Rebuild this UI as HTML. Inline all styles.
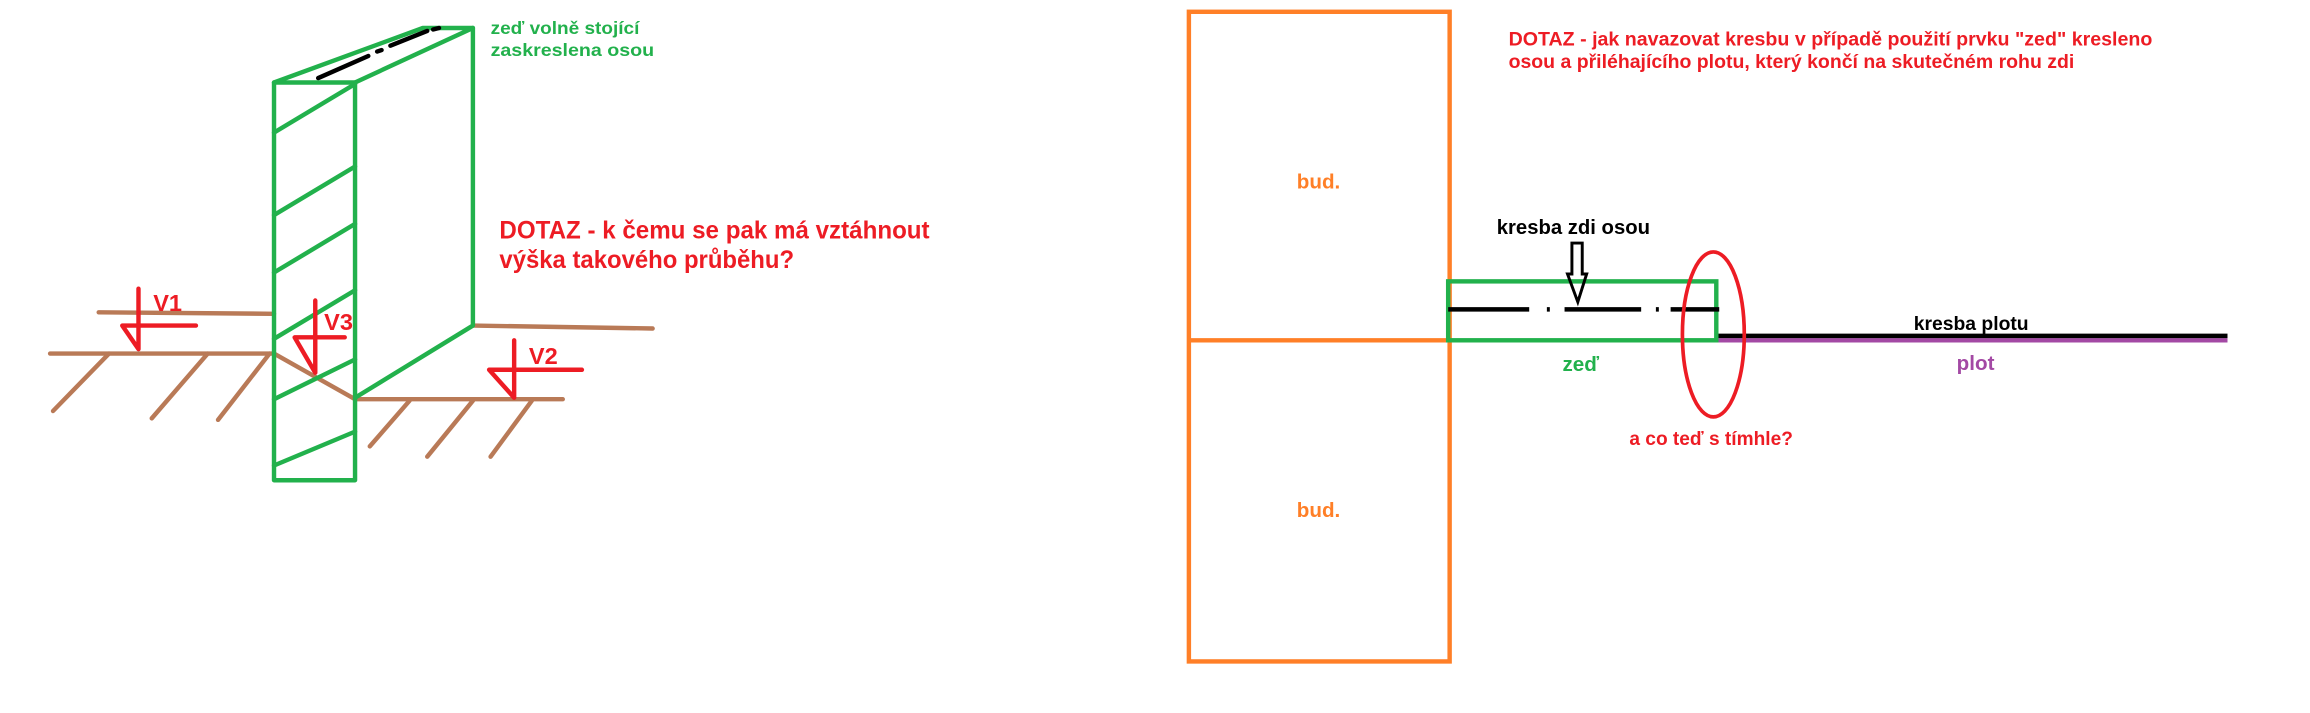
<!DOCTYPE html>
<html><head><meta charset="utf-8"><style>html,body{margin:0;padding:0;background:#fff}svg{display:block}text{font-family:"Liberation Sans",Arial,sans-serif;font-weight:bold}</style></head>
<body>
<svg width="2310" height="713" viewBox="0 0 1568 484" preserveAspectRatio="none" xmlns="http://www.w3.org/2000/svg">
<g fill="none" stroke-linecap="round" stroke-linejoin="round">
<!-- brown ground -->
<g stroke="#b97a57" stroke-width="3">
<path d="M67 212 L186 213"/>
<path d="M34 240 L186 240 L241 271 L382 271"/>
<path d="M321 221 L443 223"/>
<path d="M74 240 L36 279 M141 240 L103 284 M183 240 L148 285"/>
<path d="M278 272 L251 303 M321 272 L290 310 M361 272 L333 310"/>
</g>
<!-- green wall -->
<g stroke="#22b14c" stroke-width="3">
<rect x="186" y="56" width="55" height="270"/>
<path d="M186 56 L287 19 L321 19 L241 56"/>
<path d="M321 19 L321 221 L241 270"/>
<path d="M186 90 L241 57 M186 146 L241 113 M186 185 L241 152 M186 230 L241 197 M186 271 L241 244 M186 316 L241 293"/>
</g>
<path d="M216 53 L250 38 M256 35 L259 34 M265 31 L290 21 M294 20 L298 19" stroke="#000" stroke-width="3"/>
<!-- red markers -->
<g stroke="#ed1c24" stroke-width="3">
<path d="M94 196 L94 237 L83 221 L133 221"/>
<path d="M214 204 L214 253 L200 229 L234 229"/>
<path d="M349 231 L349 270 L332 251 L395 251"/>
</g>
</g>
<g fill="#ed1c24">
<text x="104" y="211" font-size="16">V1</text>
<text x="220" y="224" font-size="16">V3</text>
<text x="359" y="247" font-size="16">V2</text>
<text x="339" y="162" font-size="17" textLength="292" lengthAdjust="spacingAndGlyphs">DOTAZ - k čemu se pak má vztáhnout</text>
<text x="339" y="182" font-size="17" textLength="200" lengthAdjust="spacingAndGlyphs">výška takového průběhu?</text>
</g>
<g fill="#22b14c">
<text x="333" y="23" font-size="12" textLength="101" lengthAdjust="spacingAndGlyphs">zeď volně stojící</text>
<text x="333" y="38" font-size="12" textLength="111" lengthAdjust="spacingAndGlyphs">zaskreslena osou</text>
</g>

<!-- right part -->
<g fill="none">
<rect x="807" y="8" width="177" height="441" stroke="#ff7f27" stroke-width="3"/>
<path d="M807 231 L984 231" stroke="#ff7f27" stroke-width="3"/>
<path d="M1165 231 L1512 231" stroke="#a349a4" stroke-width="3"/>
<path d="M1165 228 L1512 228" stroke="#000" stroke-width="3"/>
<rect x="983" y="191" width="182" height="40" stroke="#22b14c" stroke-width="3"/>
<path d="M983 210 L1038 210 M1050 210 L1052 210 M1062 210 L1114 210 M1124 210 L1126 210 M1134 210 L1167 210" stroke="#000" stroke-width="3"/>
<path d="M1067 165 L1074 165 L1074 186 L1077 186 L1071 205 L1064 186 L1067 186 Z" stroke="#000" stroke-width="2"/>
<ellipse cx="1163" cy="227" rx="21" ry="56" stroke="#ed1c24" stroke-width="2.5"/>
</g>
<g>
<text x="1024" y="31" font-size="13" fill="#ed1c24" textLength="437" lengthAdjust="spacingAndGlyphs">DOTAZ - jak navazovat kresbu v případě použití prvku "zed" kresleno</text>
<text x="1024" y="46" font-size="13" fill="#ed1c24" textLength="384" lengthAdjust="spacingAndGlyphs">osou a přiléhajícího plotu, který končí na skutečném rohu zdi</text>
<text x="895" y="128" font-size="14" fill="#ff7f27" text-anchor="middle">bud.</text>
<text x="895" y="351" font-size="14" fill="#ff7f27" text-anchor="middle">bud.</text>
<text x="1016" y="159" font-size="14" fill="#000" textLength="104" lengthAdjust="spacingAndGlyphs">kresba zdi osou</text>
<text x="1299" y="224" font-size="13" fill="#000" textLength="78" lengthAdjust="spacingAndGlyphs">kresba plotu</text>
<text x="1073" y="252" font-size="14" fill="#22b14c" text-anchor="middle">zeď</text>
<text x="1341" y="251" font-size="14" fill="#a349a4" text-anchor="middle">plot</text>
<text x="1106" y="302" font-size="13" fill="#ed1c24" textLength="111" lengthAdjust="spacingAndGlyphs">a co teď s tímhle?</text>
</g>
</svg>
</body></html>
